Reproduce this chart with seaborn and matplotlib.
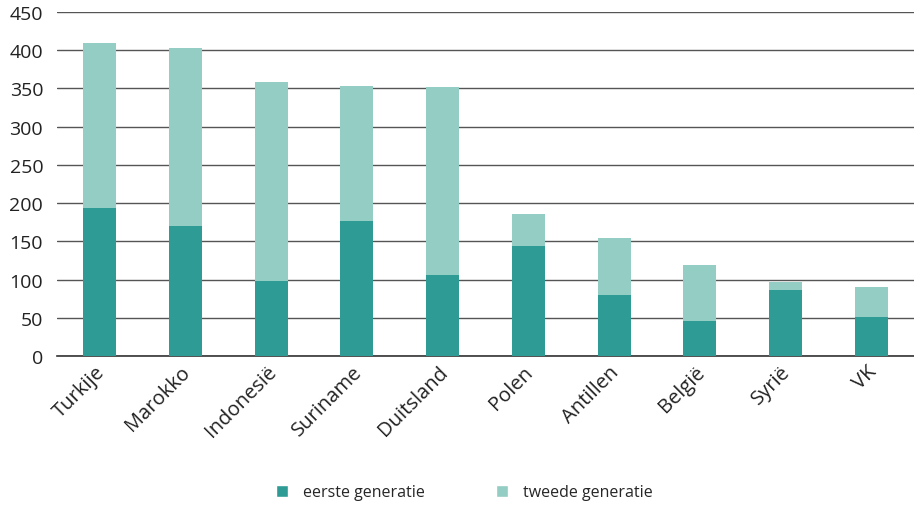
import matplotlib
matplotlib.use("Agg")
import matplotlib.pyplot as plt
import seaborn as sns
import pandas as pd
from matplotlib.patches import Patch
from matplotlib.transforms import ScaledTranslation

countries = ["Turkije", "Marokko", "Indonesië", "Suriname", "Duitsland",
             "Polen", "Antillen", "België", "Syrië", "VK"]
eerste = [194, 170, 98, 177, 106, 144, 80, 46, 86, 51]
tweede = [215, 233, 260, 176, 246, 42, 74, 73, 11, 39]
yticks = [0, 50, 100, 150, 200, 250, 300, 350, 400, 450]

dark = "#2e9c94"
light = "#93cdc4"

df = pd.DataFrame({"land": countries, "eerste": eerste, "tweede": tweede})
df["totaal"] = df["eerste"] + df["tweede"]

sns.set_style("white")
plt.rcParams["font.family"] = ["Open Sans", "DejaVu Sans"]

fig = plt.figure(figsize=(9.14, 5.06), dpi=100)
ax = fig.add_axes([0.0624, 0.2945, 0.9376, 0.6798])

sns.barplot(data=df, x="land", y="totaal", color=light, width=0.385,
            saturation=1, ax=ax, zorder=3, linewidth=0)
sns.barplot(data=df, x="land", y="eerste", color=dark, width=0.385,
            saturation=1, ax=ax, zorder=4, linewidth=0)

ax.set_ylim(0, 450)
ax.set_yticks(yticks)
ax.set_xlim(-0.5, len(countries) - 0.5)
ax.yaxis.grid(True, color="#555555", lw=1)
ax.set_axisbelow(True)
for s in ["top", "right", "left"]:
    ax.spines[s].set_visible(False)
ax.spines["bottom"].set_color("#333333")
ax.spines["bottom"].set_linewidth(1.2)
ax.set_xlabel("")
ax.set_ylabel("")
ax.tick_params(axis="y", length=0, labelsize=14, pad=10, labelcolor="#222222")
ax.tick_params(axis="x", length=0, labelsize=14.5, pad=4, labelcolor="#222222")
offset = ScaledTranslation(-5 / 100, 0, fig.dpi_scale_trans)
for lbl in ax.get_xticklabels():
    lbl.set_rotation(45)
    lbl.set_ha("right")
    lbl.set_rotation_mode("anchor")
    lbl.set_transform(lbl.get_transform() + offset)

handles = [Patch(facecolor=dark, label="eerste generatie"),
           Patch(facecolor=light, label="tweede generatie")]
fig.legend(handles=handles, loc="center", bbox_to_anchor=(0.508, 0.025), ncol=2,
           frameon=False, fontsize=11.5, handlelength=0.75, handleheight=0.75,
           columnspacing=4.5, handletextpad=0.9)

fig.savefig("out.png", dpi=100, facecolor="white")
